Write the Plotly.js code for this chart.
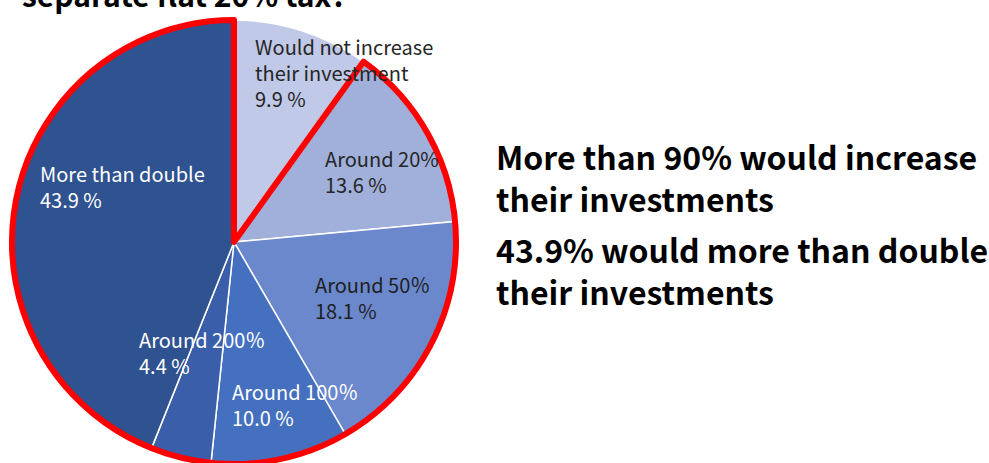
<!DOCTYPE html>
<html>
<head>
<meta charset="utf-8">
<script src="https://cdn.plot.ly/plotly-3.0.1.min.js"></script>
<style>
html,body{margin:0;padding:0;overflow:hidden;background:#fff;}
#chart{width:989px;height:470px;}
</style>
</head>
<body>
<div id="chart"></div>
<script>
// ---- data ----
const categories = ["Would not increase their investment", "Around 20%", "Around 50％", "Around 100％", "Around 200％", "More than double"];
const labelLines = [["Would not increase", "their investment"], ["Around 20%"], ["Around 50％"], ["Around 100％"], ["Around 200％"], ["More than double"]];
const shares = [9.9, 13.6, 18.1, 10.0, 4.4, 43.9];
const titleText = "separate flat 20% tax?";
const noteLines1 = ["More than 90% would increase", "their investments"];
const noteLines2 = ["43.9% would more than double", "their investments"];

// ---- styles / layout ----
const W = 989, H = 470;
const sliceColors = ['#c0c9e7', '#a1afdb', '#6b88cc', '#4470bf', '#3a5ea9', '#2f5290'];
const textColors = ['#262626', '#262626', '#1f1f1f', '#ffffff', '#ffffff', '#ffffff'];
const labelPos = [[253, 30], [323, 142], [313, 268], [230, 375], [137, 323], [38, 157]]; // px, top-left
const cx = 234, cy = 242, R = 222;
const dom = {x: [(cx - R) / W, (cx + R) / W], y: [(H - cy - R) / H, (H - cy + R) / H]};
const px = (x) => x / W, py = (y) => 1 - y / H;

const restSum = shares.slice(1).reduce((a, b) => a + b, 0);

const traces = [
  {
    type: 'pie', values: shares, labels: categories, sort: false,
    direction: 'clockwise', rotation: 0, domain: dom,
    marker: {colors: sliceColors, line: {color: '#ffffff', width: 1.5}},
    textinfo: 'none', hoverinfo: 'label+value', showlegend: false
  },
  {
    type: 'pie', values: [shares[0], restSum], labels: ['not increase', 'increase'], sort: false,
    direction: 'clockwise', rotation: 0, domain: dom,
    marker: {colors: ['rgba(0,0,0,0)', 'rgba(0,0,0,0)'], line: {color: ['rgba(0,0,0,0)', '#ff0000'], width: 6}},
    textinfo: 'none', hoverinfo: 'skip', showlegend: false
  }
];

const annotations = [];
const labFont = "'Noto Sans CJK JP', 'Noto Sans', sans-serif";
categories.forEach((c, i) => {
  annotations.push({
    xref: 'paper', yref: 'paper', x: px(labelPos[i][0]), y: py(labelPos[i][1]),
    xanchor: 'left', yanchor: 'top', align: 'left', showarrow: false,
    text: labelLines[i].concat([shares[i].toFixed(1) + ' %']).join('<br>'),
    font: {family: labFont, size: 20, color: textColors[i]}
  });
});
const titleFont = {family: labFont, size: 30, color: '#000000', weight: 700};
const noteFont = {family: labFont, size: 32, color: '#000000', weight: 700};
annotations.push({xref: 'paper', yref: 'paper', x: px(20), y: py(18), xanchor: 'left', yanchor: 'bottom',
  showarrow: false, text: '<b>' + titleText + '</b>', font: titleFont});
const noteTops = [131, 224];
[noteLines1, noteLines2].forEach((lines, p) => {
  annotations.push({xref: 'paper', yref: 'paper', x: px(494), y: py(noteTops[p]), xanchor: 'left', yanchor: 'top',
    align: 'left', showarrow: false, text: '<b>' + lines.join('<br>') + '</b>', font: noteFont});
});

Plotly.newPlot('chart', traces, {
  width: W, height: H, margin: {l: 0, r: 0, t: 0, b: 0},
  paper_bgcolor: '#ffffff', plot_bgcolor: '#ffffff',
  annotations: annotations, showlegend: false
}, {displayModeBar: false, staticPlot: true});
</script>
</body>
</html>
